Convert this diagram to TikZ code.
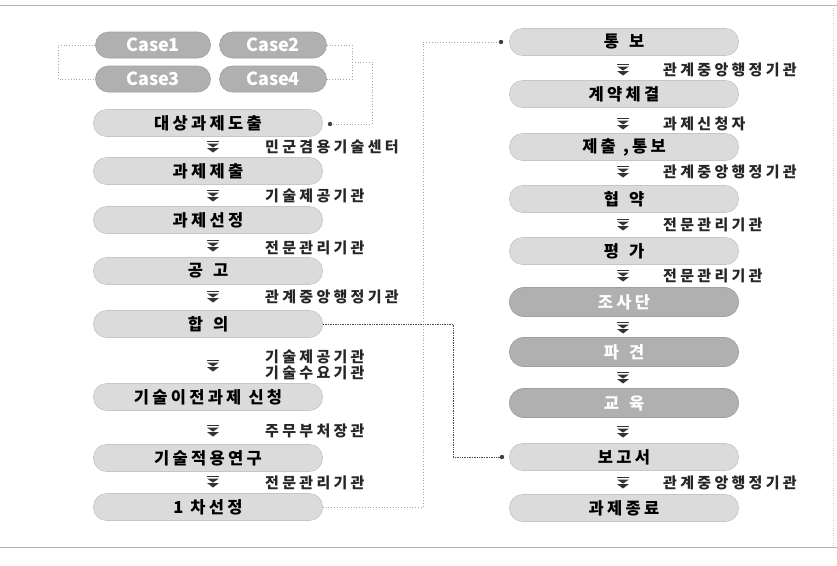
\documentclass[tikz,border=0pt]{standalone}
\usepackage{fontspec}
\newfontfamily\kr{Noto Sans CJK KR}
\newfontfamily\krs{Noto Sans CJK KR}[LetterSpace=20]
\newfontfamily\krl{Noto Sans CJK KR}[LetterSpace=22]
\usetikzlibrary{calc}
\newcommand\gp{\hspace{10pt}}
\tikzset{
  lbox/.style={rounded corners=13pt, minimum width=229pt, minimum height=27pt, inner sep=0pt,
    fill=gray!28, draw=gray!45, line width=0.6pt, text=black,
    font=\krs\bfseries\fontsize{16.5}{16.5}\selectfont},
  dbox/.style={lbox, minimum height=29pt, rounded corners=14pt, fill=gray!62, draw=gray!75, text=white},
  cbox/.style={lbox, minimum width=115pt, minimum height=26pt, fill=gray!62, draw=gray!75, text=white,
    font=\kr\bfseries\fontsize{18}{18}\selectfont},
  lab/.style={anchor=west, inner sep=0pt, text=black!85, font=\krl\bfseries\fontsize{15}{16}\selectfont},
  dotline/.style={gray!70, line width=0.8pt, dotted},
  denseline/.style={black!70, line width=0.7pt, densely dotted},
  enddot/.style={fill=black!75},
  dblarrow/.pic={
    \fill[black!80] (-6,-6) rectangle (6,-4.8);
    \fill[black!80] (-6,-3.5) -- (6,-3.5) -- (0,0.5) -- cycle;
    \fill[black!80] (-6,1) -- (6,1) -- (0,5.5) -- cycle;
  }
}
\begin{document}
\begin{tikzpicture}[x=1pt,y=-1pt]
\useasboundingbox (0,0) rectangle (837,565);
% frame
\draw[gray!60, line width=0.8pt] (0,5) -- (837,5);
\draw[gray!60, line width=0.8pt] (0,547) -- (837,547);
\draw[gray!40, line width=0.5pt, dotted] (833,5) -- (833,547);

% case boxes
\node[cbox] (c1) at (153,45) {Case1};
\node[cbox, minimum width=107pt] (c2) at (273,45) {Case2};
\node[cbox] (c3) at (153,79) {Case3};
\node[cbox, minimum width=107pt] (c4) at (273,79) {Case4};

% left column
\node[lbox] (l0) at (208,123) {대상과제도출};
\node[lbox] (l1) at (208,171) {과제제출};
\node[lbox] (l2) at (208,220) {과제선정};
\node[lbox] (l3) at (208,271) {공\gp 고};
\node[lbox] (l4) at (208,324) {합\gp 의};
\node[lbox] (l5) at (208,397) {기술이전과제 신청};
\node[lbox] (l6) at (208,458) {기술적용연구};
\node[lbox] (l7) at (208,507) {1 차선정};

\foreach \y in {147,196,246,297,366,431,482} \pic at (213,\y) {dblarrow};
\node[lab] (a0) at (265,147) {민군겸용기술센터};
\node[lab] (a1) at (265,196) {기술제공기관};
\node[lab] (a2) at (265,248) {전문관리기관};
\node[lab] (a3) at (265,297) {관계중앙행정기관};
\node[lab] (a4) at (265,357) {기술제공기관};
\node[lab] (a5) at (265,373) {기술수요기관};
\node[lab] (a6) at (265,431) {주무부처장관};
\node[lab] (a7) at (265,483) {전문관리기관};

% right column
\node[lbox] (r0) at (624,42) {통\gp 보};
\node[lbox] (r1) at (624,94) {계약체결};
\node[lbox] (r2) at (624,147) {제출 ,통보};
\node[lbox] (r3) at (624,199) {협\gp 약};
\node[lbox] (r4) at (624,251) {평\gp 가};
\node[dbox] (r5) at (624,302) {조사단};
\node[dbox] (r6) at (624,352) {파\gp 견};
\node[dbox] (r7) at (624,403) {교\gp 육};
\node[lbox] (r8) at (624,457) {보고서};
\node[lbox] (r9) at (624,508) {과제종료};

\foreach \y in {70,124,172,225,276,328,378,432,483} \pic at (623,\y) {dblarrow};
\node[lab] (b0) at (663,70) {관계중앙행정기관};
\node[lab] (b1) at (663,124) {과제신청자};
\node[lab] (b2) at (663,172) {관계중앙행정기관};
\node[lab] (b3) at (663,225) {전문관리기관};
\node[lab] (b4) at (663,276) {전문관리기관};
\node[lab] (b5) at (663,483) {관계중앙행정기관};

% connectors
\coordinate (cl) at (58,45);
\draw[dotline] (c1.west) -- (cl) |- (c3.west);
\coordinate (cr) at (352,45);
\draw[dotline] (c2.east) -- (cr) |- (c4.east);
\coordinate (cj) at (352,62);
\coordinate (d0) at (330,124);
\draw[dotline] (cj) -- (372,62) |- (d0);
\fill[enddot] (d0) circle (2.2);

\coordinate (d1) at (501,42);
\draw[dotline] (l7.east) -- (423,507) |- (d1);
\fill[enddot] (d1) circle (2.2);

\coordinate (d2) at (502,457);
\draw[denseline] (l4.east) -- (453,324) |- (d2);
\fill[enddot] (d2) circle (2.2);
\end{tikzpicture}
\end{document}
